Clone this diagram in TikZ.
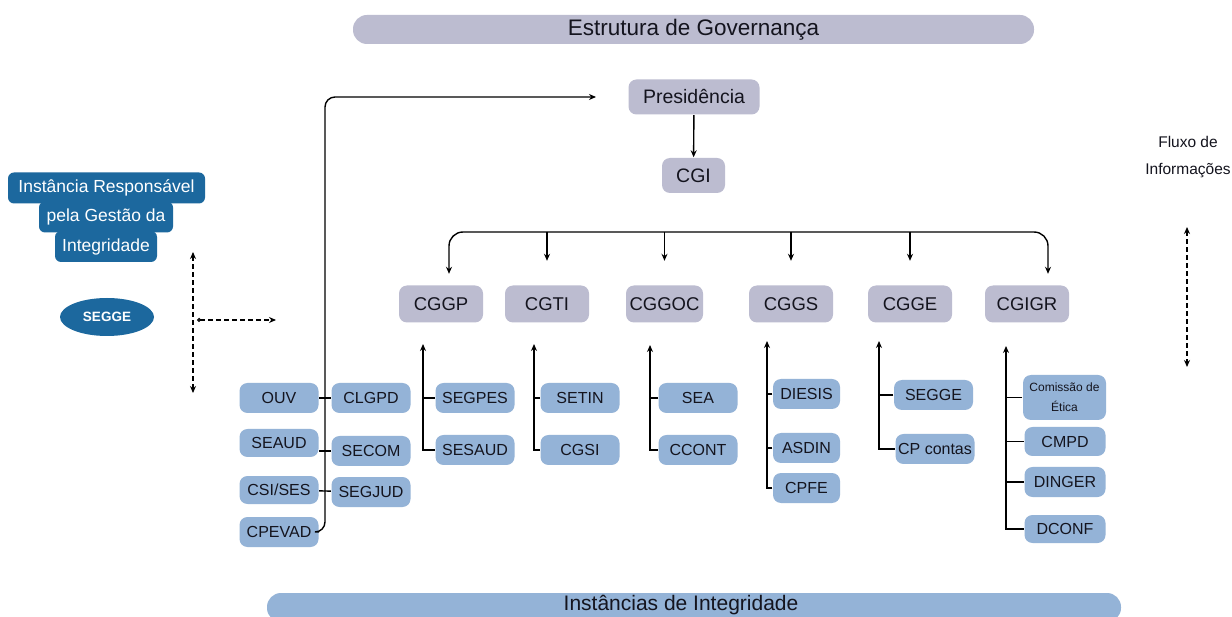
\documentclass[tikz,border=0pt]{standalone}
\usepackage{fontspec}
\setmainfont{Liberation Sans}
\usepackage{xcolor}
\usepackage{tikz}
\usetikzlibrary{arrows.meta,shapes.geometric}

\definecolor{govgray}{RGB}{188,188,208}
\definecolor{intblue}{RGB}{148,179,215}
\definecolor{segblue}{RGB}{28,104,158}
\definecolor{txtdark}{RGB}{20,20,30}

\begin{document}
\begin{tikzpicture}[x=1pt, y=-1pt, line width=1.4pt,
  >={Stealth[length=7pt,width=6pt]},
  banner/.style={rectangle, rounded corners=14pt, inner sep=0pt, text=txtdark},
  govbox/.style={rectangle, rounded corners=8pt, fill=govgray, text=txtdark, minimum width=84pt, minimum height=37pt, inner sep=1pt, font=\fontsize{18.5}{20}\selectfont},
  topbox/.style={govbox, minimum height=35pt, font=\fontsize{19.5}{21}\selectfont},
  intbox/.style={rectangle, rounded corners=8pt, fill=intblue, text=txtdark, minimum width=79pt, minimum height=30pt, inner sep=1pt, font=\fontsize{16}{18}\selectfont},
  irgline/.style={rectangle, rounded corners=6pt, fill=segblue, text=white, inner sep=0pt, minimum height=31pt, font=\fontsize{17.5}{19}\selectfont},
  flow/.style={dashed, dash pattern=on 5pt off 3pt, line width=1.2pt}]

\clip (0,0) rectangle (1232,617);
\fill[white] (0,0) rectangle (1232,617);

% faixas de titulo
\node (govtitle) [banner, fill=govgray, minimum width=681pt, minimum height=29pt, font=\fontsize{22.5}{24}\selectfont] at (693.5,29.5) {Estrutura de Governança};
\node (inttitle) [banner, fill=intblue, minimum width=854pt, minimum height=29pt] at (694,607.5) {};
\node at (681,605) [font=\fontsize{21}{23}\selectfont, text=txtdark] {Instâncias de Integridade};

% instancia responsavel
\node (irg1) [irgline, minimum width=197pt] at (106.5,188) {Instância Responsável};
\node (irg2) [irgline, minimum width=134pt] at (106,217) {pela Gestão da};
\node (irg3) [irgline, minimum width=102pt] at (106,246.5) {Integridade};
\node (segge0) [ellipse, fill=segblue, text=white, minimum width=94pt, minimum height=38pt, inner sep=0pt, font=\fontsize{13.5}{15}\bfseries\selectfont] at (107,317) {SEGGE};

% governanca
\node (pres) [topbox, minimum width=131pt] at (694,97) {Presidência};
\node (cgi) [topbox, minimum width=63pt] at (693.5,175.5) {CGI};
\draw[->] (pres) -- (cgi);

\node (cggp) [govbox] at (441,304) {CGGP};
\node (cgti) [govbox] at (547,304) {CGTI};
\node (cggoc) [govbox, minimum width=77pt] at (664.5,304) {CGGOC};
\node (cggs) [govbox] at (791,304) {CGGS};
\node (cgge) [govbox] at (910,304) {CGGE};
\node (cgigr) [govbox] at (1027,304) {CGIGR};

\coordinate (bar) at (700,232);
\draw[<->, rounded corners=14pt] ([xshift=8pt,yshift=11pt]cggp.north) |- (bar) -| ([xshift=21pt,yshift=11pt]cgigr.north);
\draw[->] (cgti.north |- bar) -- ([yshift=24pt]cgti.north);
\draw[->] (cggoc.north |- bar) -- ([yshift=24pt]cggoc.north);
\draw[->] (cggs.north |- bar) -- ([yshift=24pt]cggs.north);
\draw[->] (cgge.north |- bar) -- ([yshift=24pt]cgge.north);

% instancias de integridade - coluna da esquerda
\node (ouv) [intbox] at (279,398) {OUV};
\node (seaud) [intbox, minimum height=28pt] at (279,443) {SEAUD};
\node (csises) [intbox, minimum height=28pt] at (279,490) {CSI/SES};
\node (cpevad) [intbox] at (279,532) {CPEVAD};
\node (clgpd) [intbox] at (371,398) {CLGPD};
\node (secom) [intbox] at (371,451) {SECOM};
\node (segjud) [intbox] at (371,492) {SEGJUD};

\coordinate (spine) at (325,97);
\coordinate (presin) at (596,97);
\draw[->, rounded corners=10pt] (cpevad.east) -| (spine) -- (presin);
\draw (ouv) -- (clgpd);
\draw (seaud.east |- secom) -- (secom.west);
\draw (csises) -- (segjud);

% CGGP
\node (segpes) [intbox] at (475,398) {SEGPES};
\node (sesaud) [intbox] at (475,450) {SESAUD};
\coordinate (ggptip) at (423,344);
\draw[->] (sesaud.west) -| (ggptip);
\draw (segpes.west) -- (segpes.west -| ggptip);

% CGTI
\node (setin) [intbox] at (580,398) {SETIN};
\node (cgsi) [intbox] at (580,450) {CGSI};
\coordinate (gtitip) at (534,344);
\draw[->] (cgsi.west) -| (gtitip);
\draw (setin.west) -- (setin.west -| gtitip);

% CGGOC
\node (sea) [intbox] at (698,398) {SEA};
\node (ccont) [intbox] at (698,450) {CCONT};
\coordinate (goctip) at (650,345);
\draw[->] (ccont.west) -| (goctip);
\draw (sea.west) -- (sea.west -| goctip);

% CGGS
\node (diesis) [intbox, minimum width=67pt] at (806.5,394) {DIESIS};
\node (asdin) [intbox, minimum width=67pt] at (806.5,448) {ASDIN};
\node (cpfe) [intbox, minimum width=67pt] at (806.5,488) {CPFE};
\coordinate (ggstip) at (767,341);
\draw[->] (cpfe.west) -| (ggstip);
\draw (diesis.west) -- (diesis.west -| ggstip);
\draw (asdin.west) -- (asdin.west -| ggstip);

% CGGE
\node (segge) [intbox] at (933.5,395) {SEGGE};
\node (cpcontas) [intbox] at (935,449) {CP contas};
\coordinate (ggetip) at (879,341);
\draw[->] (cpcontas.west) -| (ggetip);
\draw (segge.west) -- (segge.west -| ggetip);

% CGIGR
\node (etica) [intbox, minimum width=83pt, minimum height=45pt, align=center, font=\fontsize{12}{20}\selectfont] at (1064.5,397.5) {Comissão de\\Ética};
\node (cmpd) [intbox, minimum width=81pt, minimum height=29pt] at (1065,441.5) {CMPD};
\node (dinger) [intbox, minimum width=81pt] at (1065,482) {DINGER};
\node (dconf) [intbox, minimum width=81pt, minimum height=28pt] at (1065,529) {DCONF};
\coordinate (igrtip) at (1006,346);
\draw[->] (dconf.west) -| (igrtip);
\draw (etica.west) -- (etica.west -| igrtip);
\draw (cmpd.west) -- (cmpd.west -| igrtip);
\draw (dinger.west) -- (dinger.west -| igrtip);

% fluxo de informacoes
\node (fluxo) [align=center, text=txtdark, font=\fontsize{15.5}{27}\selectfont] at (1188,157) {Fluxo de\\Informações};
\coordinate (fluxotop) at (1187,227);
\coordinate (fluxobot) at (1187,367);
\draw[<->, flow] (fluxotop) -- (fluxobot);

\coordinate (leftop) at (193,252);
\coordinate (lefbot) at (193,393);
\coordinate (lefmid) at (197,320);
\coordinate (lefend) at (276,320);
\draw[<->, flow] (leftop) -- (lefbot);
\draw[{Circle[open,length=4pt]}->, flow] (lefmid) -- (lefend);
\end{tikzpicture}
\end{document}
